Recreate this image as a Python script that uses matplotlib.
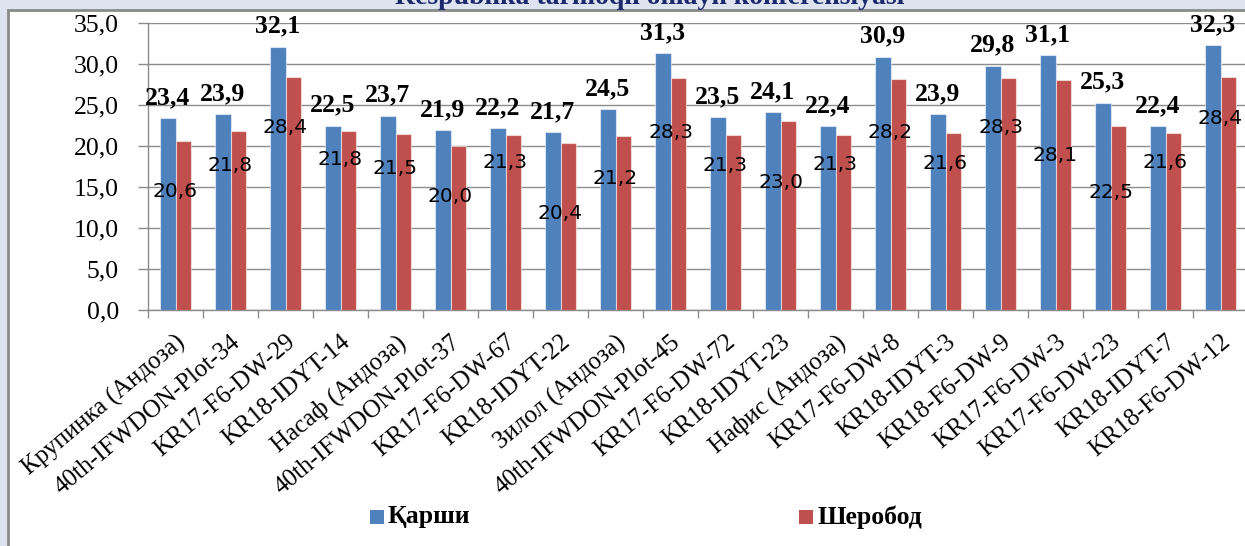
import matplotlib
matplotlib.use("Agg")
import matplotlib.pyplot as plt
from matplotlib.patches import Rectangle
from matplotlib.transforms import ScaledTranslation
import numpy as np

# Varieties / lines in the trial
varieties = [
    "Крупинка (Андоза)", "40th-IFWDON-Plot-34", "KR17-F6-DW-29", "KR18-IDYT-14",
    "Насаф (Андоза)", "40th-IFWDON-Plot-37", "KR17-F6-DW-67", "KR18-IDYT-22",
    "Зилол (Андоза)", "40th-IFWDON-Plot-45", "KR17-F6-DW-72", "KR18-IDYT-23",
    "Нафис (Андоза)", "KR17-F6-DW-8", "KR18-IDYT-3", "KR18-F6-DW-9",
    "KR17-F6-DW-3", "KR17-F6-DW-23", "KR18-IDYT-7", "KR18-F6-DW-12",
]
karshi = [23.4, 23.9, 32.1, 22.5, 23.7, 21.9, 22.2, 21.7, 24.5, 31.3,
          23.5, 24.1, 22.4, 30.9, 23.9, 29.8, 31.1, 25.3, 22.4, 32.3]
sherobod = [20.6, 21.8, 28.4, 21.8, 21.5, 20.0, 21.3, 20.4, 21.2, 28.3,
            21.3, 23.0, 21.3, 28.2, 21.6, 28.3, 28.1, 22.5, 21.6, 28.4]
series_names = ["Қарши", "Шеробод"]
title_text = "Respublika tarmoqli onlayn konferensiyasi"
yticks = [0, 5, 10, 15, 20, 25, 30, 35]

# Heights (in axis units) where the Шеробод value labels sit
sherobod_label_y = [14.4, 17.6, 22.2, 18.3, 17.2, 13.8, 18.0, 11.8, 16.0, 21.7,
                    17.6, 15.6, 17.8, 21.7, 17.9, 22.2, 18.8, 14.3, 18.0, 23.4]

BLUE = "#4f81bd"
RED = "#c0504d"
GRID = "#8c8c8c"
SERIF = "Liberation Serif"

W, H = 1245, 546
fig = plt.figure(figsize=(W / 100, H / 100), dpi=100)
fig.patch.set_facecolor("#dde4ef")

# white chart area with grey frame
fig.add_artist(Rectangle((8 / W, -0.05), 1.1, 1.05 - 10 / H,
                         transform=fig.transFigure, facecolor="white",
                         edgecolor="#8a8a8a", linewidth=2, zorder=0))

fig.text(650 / W, 1 - 4 / H, title_text, ha="center", va="baseline",
         fontsize=20, fontweight="bold", family=SERIF, color="#1c2a6c")

ax = fig.add_axes([148 / W, 236 / H, 1100 / W, 287 / H])
ax.set_facecolor("none")

x = np.arange(len(varieties))
bw = 0.29
ax.bar(x - bw / 2, karshi, bw, color=BLUE, edgecolor=(1, 1, 1, 0.55),
       linewidth=0.8, zorder=3)
ax.bar(x + bw / 2, sherobod, bw, color=RED, edgecolor=(1, 1, 1, 0.55),
       linewidth=0.8, zorder=3)

for i in range(len(varieties)):
    ax.text(x[i] - bw / 2, karshi[i] + 2.5, f"{karshi[i]:.1f}".replace(".", ","),
            ha="center", va="center", fontsize=18.5, fontweight="bold",
            family=SERIF, color="black", zorder=5)
    ax.text(x[i], sherobod_label_y[i], f"{sherobod[i]:.1f}".replace(".", ","),
            ha="center", va="center", fontsize=14.5, family="DejaVu Sans",
            color="black", zorder=5)

ax.set_xlim(-0.5, len(varieties) - 0.5)
ax.set_ylim(0, 35)
ax.set_yticks(yticks)
ax.set_yticklabels([f"{v:.1f}".replace(".", ",") for v in yticks],
                   family=SERIF, fontsize=18.5)
ax.yaxis.grid(True, color=GRID, linewidth=1, zorder=1)
ax.set_axisbelow(True)

ax.set_xticks(x)
ax.set_xticklabels(varieties, rotation=40, ha="right", va="top",
                   rotation_mode="anchor", family=SERIF, fontsize=18)
shift = ScaledTranslation(5 / 100, 0, fig.dpi_scale_trans)
for lbl in ax.get_xticklabels():
    lbl.set_transform(lbl.get_transform() + shift)
ax.set_xticks(np.arange(-0.5, len(varieties)), minor=True)
ax.tick_params(axis="x", which="major", length=0, pad=15)
ax.tick_params(axis="x", which="minor", length=6, color=GRID, width=1)
ax.tick_params(axis="y", length=7, color=GRID, width=1, pad=14)

for s in ["top", "right"]:
    ax.spines[s].set_visible(False)
for s in ["left", "bottom"]:
    ax.spines[s].set_color(GRID)
    ax.spines[s].set_linewidth(1)

# legend along the bottom
for xs, xt, col, name in [(370, 388, BLUE, series_names[0]),
                          (799, 817, RED, series_names[1])]:
    fig.add_artist(Rectangle((xs / W, 1 - 524 / H), 14 / W, 14 / H,
                             transform=fig.transFigure, facecolor=col,
                             edgecolor="none", zorder=4))
    fig.text(xt / W, 1 - 517 / H, name, ha="left", va="center", fontsize=18.5,
             fontweight="bold", family=SERIF, color="black")

fig.savefig("out.png", dpi=100)
